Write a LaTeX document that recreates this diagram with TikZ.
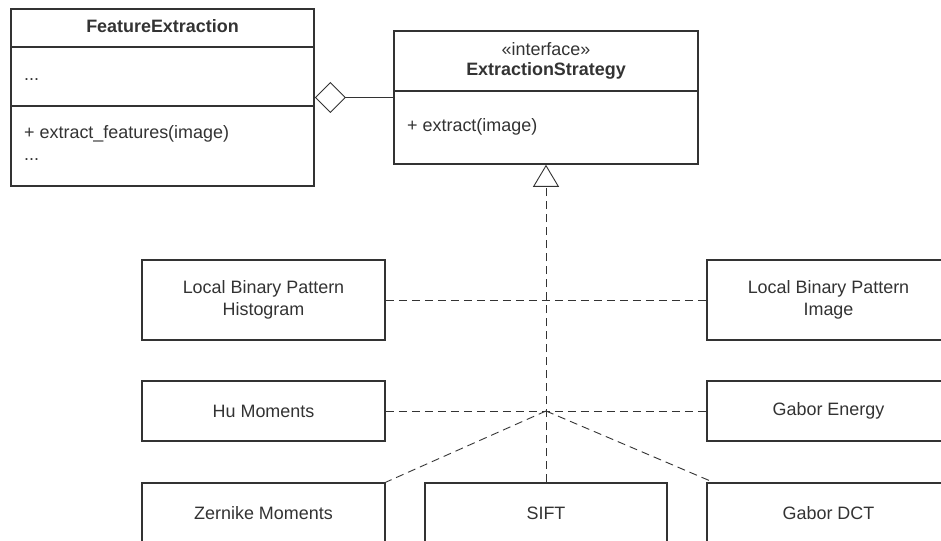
\documentclass[tikz,border=0pt]{standalone}
\usepackage{fontspec}
\setmainfont{Liberation Sans}
\usetikzlibrary{arrows.meta,calc}
\definecolor{ink}{HTML}{333333}
\begin{document}
\begin{tikzpicture}[x=1bp,y=-1bp,
  lbl/.style={text=ink, inner sep=0pt, font=\fontsize{18}{22}\selectfont},
  box/.style={lbl, draw=ink, line width=1.6bp, minimum width=243bp, align=center},
  divider/.style={draw=ink, line width=1.6bp},
  conn/.style={draw=ink, line width=0.9bp},
  dsh/.style={conn, dash pattern=on 8bp off 5bp}]
\clip (0,0) rectangle (941,541);
\fill[white] (0,0) rectangle (941,541);
% FeatureExtraction class
\node[box, minimum width=303bp, minimum height=177bp] (fe) at (162.5,97.5) {};
\node[lbl, font=\fontsize{18}{22}\selectfont\bfseries] (fetitle) at (162.5,26) {FeatureExtraction};
\draw[divider] (fe.west |- 0,47) -- (fe.east |- 0,47);
\draw[divider] (fe.west |- 0,106) -- (fe.east |- 0,106);
\node[lbl, anchor=base west] (feattr) at (24,81) {...};
\node[lbl, anchor=base west] (feop) at (24,139) {+ extract\_features(image)};
\node[lbl, anchor=base west] (femore) at (24,161) {...};
% ExtractionStrategy interface
\node[box, minimum width=304bp, minimum height=133bp] (es) at (546,97.5) {};
\node[lbl] (esster) at (546,49) {«interface»};
\node[lbl, font=\fontsize{18}{22}\selectfont\bfseries] (estitle) at (546,71) {ExtractionStrategy};
\draw[divider] (es.west |- 0,91) -- (es.east |- 0,91);
\node[lbl, anchor=base west] (esop) at (407,132) {+ extract(image)};
% aggregation
\draw[conn, -{Diamond[open, length=31bp, width=31bp, line width=0.9bp]}] (es.west) -- (fe.east);
% implementations
\node[box, minimum height=80bp] (lbph) at (263.5,300) {Local Binary Pattern\\Histogram};
\node[box, minimum height=80bp] (lbpi) at (828.5,300) {Local Binary Pattern\\Image};
\node[box, minimum height=60bp] (hu) at (263.5,411) {Hu Moments};
\node[box, minimum height=60bp] (ge) at (828.5,411) {Gabor Energy};
\node[box, minimum height=60bp] (zer) at (263.5,513) {Zernike Moments};
\node[box, minimum height=60bp, minimum width=242bp] (sift) at (546,513) {SIFT};
\node[box, minimum height=60bp] (gdct) at (828.5,513) {Gabor DCT};
\coordinate (hub) at (546,411);
\coordinate (gdctend) at ($(gdct.north west)+(7,0)$);
\draw[dsh] (lbph.east) -- (lbpi.west);
\draw[dsh] (hu.east) -- (ge.west);
\draw[dsh] (hub) -- (zer.north east);
\draw[dsh] (hub) -- (gdctend);
\draw[dsh, -{Triangle[open, length=22bp, width=26bp, line width=0.9bp]}] (sift.north) -- (es.south);
\end{tikzpicture}
\end{document}
